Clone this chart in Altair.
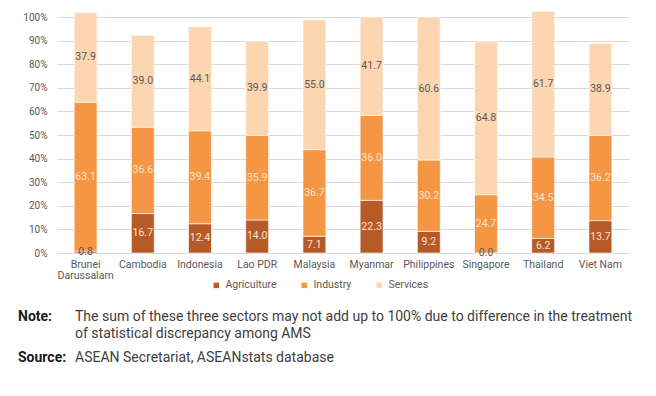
import altair as alt
import pandas as pd

countries = ["Brunei Darussalam", "Cambodia", "Indonesia", "Lao PDR", "Malaysia",
             "Myanmar", "Philippines", "Singapore", "Thailand", "Viet Nam"]
agriculture = [0.8, 16.7, 12.4, 14.0, 7.1, 22.3, 9.2, 0.0, 6.2, 13.7]
industry = [63.1, 36.6, 39.4, 35.9, 36.7, 36.0, 30.2, 24.7, 34.5, 36.2]
services = [37.9, 39.0, 44.1, 39.9, 55.0, 41.7, 60.6, 64.8, 61.7, 38.9]
sectors = ["Agriculture", "Industry", "Services"]
colors = ["#B65A27", "#F59644", "#FCD5B1"]
y_ticks = [0, 10, 20, 30, 40, 50, 60, 70, 80, 90, 100]

note_label = "Note:"
note_lines = ["The sum of these three sectors may not add up to 100% due to difference in the treatment",
              "of statistical discrepancy among AMS"]
source_label = "Source:"
source_text = "ASEAN Secretariat, ASEANstats database"

rows = []
for i, c in enumerate(countries):
    for k, (s, vals) in enumerate(zip(sectors, [agriculture, industry, services])):
        rows.append({"country": c, "sector": s, "value": vals[i], "order": k})
df = pd.DataFrame(rows)

FONT = "Roboto"
GRAY = "#595959"

base = alt.Chart(df).transform_stack(
    stack="value", groupby=["country"], as_=["y0", "y1"],
    sort=[alt.SortField("order", order="ascending")]
).transform_calculate(
    mid="(datum.y0 + datum.y1) / 2",
    lab="format(datum.value, '.1f')"
)

x_axis = alt.Axis(labelAngle=0, labelFont=FONT, labelFontSize=10.5,
                  labelColor=GRAY, ticks=False, domain=False, grid=False,
                  labelPadding=6, labelLineHeight=11.5,
                  labelExpr="datum.label == 'Brunei Darussalam' ? ['Brunei', 'Darussalam'] : datum.label")
x_scale = alt.Scale(paddingInner=0.6, paddingOuter=0.3)
y_scale = alt.Scale(domain=[0, 100], nice=False)
y_axis = alt.Axis(values=y_ticks, labelExpr="datum.value + '%'",
                  labelFont=FONT, labelFontSize=10, labelColor=GRAY,
                  ticks=False, domain=False, tickSize=0, labelPadding=10,
                  labelOverlap=False, grid=True,
                  gridColor="#D9D9D9", gridWidth=1)

bars = base.mark_bar(stroke="white", strokeWidth=0.6).encode(
    x=alt.X("country:N", sort=countries, title=None, scale=x_scale, axis=x_axis),
    y=alt.Y("y0:Q", title=None, scale=y_scale, axis=y_axis),
    y2="y1:Q",
    color=alt.Color("sector:N", sort=sectors,
                    scale=alt.Scale(domain=sectors, range=colors),
                    legend=alt.Legend(title=None, orient="none", direction="horizontal",
                                      legendX=154, legendY=263, symbolType="square",
                                      symbolSize=30, symbolStrokeWidth=0,
                                      labelFont=FONT, labelFontSize=10.5, labelColor=GRAY,
                                      labelOffset=4, columnPadding=22, padding=0)),
)

labels = base.mark_text(font=FONT, fontSize=10.5, baseline="middle").encode(
    x=alt.X("country:N", sort=countries, title=None, scale=x_scale, axis=x_axis),
    y=alt.Y("mid:Q", title=None, scale=y_scale, axis=y_axis),
    text="lab:N",
    color=alt.condition(
        "datum.sector == 'Services' || datum.value < 3",
        alt.value(GRAY), alt.value("#FBE3CF")),
)

def txt(s, x, y, bold=False):
    return alt.Chart(pd.DataFrame({"t": [s]})).mark_text(
        font=FONT, fontSize=14, align="left", baseline="middle",
        fontWeight="bold" if bold else "normal",
        color="#1a1a1a" if bold else "#404040").encode(
        x=alt.value(x), y=alt.value(y), text="t:N")

notes = [
    txt(note_label, -39, 300, True),
    txt(note_lines[0], 18, 300),
    txt(note_lines[1], 18, 317),
    txt(source_label, -39, 341, True),
    txt(source_text, 18, 341),
]

chart = alt.layer(bars, labels, *notes).properties(
    width=572, height=236,
    autosize=alt.AutoSizeParams(type="none"),
    padding={"left": 49, "top": 9, "right": 10, "bottom": 130},
).configure_view(stroke=None)

chart.save("out.html", embed_options={"renderer": "svg", "actions": False})
